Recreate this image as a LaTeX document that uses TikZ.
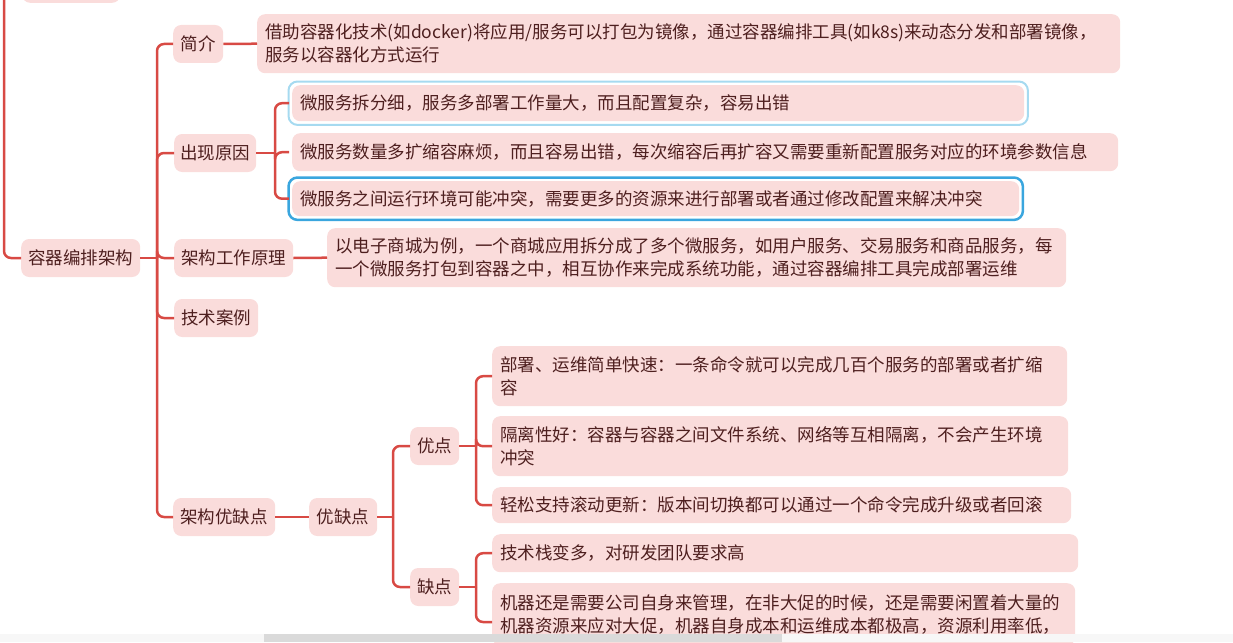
\documentclass[tikz,border=0pt]{standalone}
\usepackage{fontspec}
\setmainfont{Noto Sans CJK SC}
\usetikzlibrary{calc}
\definecolor{boxfill}{HTML}{FADCDB}
\definecolor{txt}{HTML}{4E1F1F}
\definecolor{linec}{HTML}{D84A44}
\definecolor{selA}{HTML}{A6DAF0}
\definecolor{selB}{HTML}{3AA6DE}
\definecolor{barlight}{HTML}{F7F7F7}
\definecolor{bardark}{HTML}{DADADA}
\tikzset{
  topic/.style={fill=boxfill, rounded corners=8pt, inner xsep=0pt, inner ysep=0pt,
    minimum height=38pt, text=txt, anchor=west, align=center,
    font=\fontsize{17.5}{23}\selectfont},
  leaf/.style={fill=boxfill, rounded corners=8pt, inner xsep=8pt, inner ysep=0pt,
    text=txt, anchor=north west, align=left,
    font=\fontsize{17.5}{23}\selectfont},
  conn/.style={draw=linec, line width=2.5pt, rounded corners=7pt},
  selring/.style={rounded corners=9pt},
}
\begin{document}
\begin{tikzpicture}[x=1pt,y=-1pt]
\useasboundingbox (0,0) rectangle (1233,642);
\clip (0,0) rectangle (1233,642);

% previous partial node at top
\node[topic, minimum width=98pt, minimum height=30pt, anchor=south west] (prev) at (22,3) {};

% root
\node[topic, minimum width=119pt] (arch) at (21,258) {容器编排架构};
\coordinate (rootin) at (4,-2);
\draw[conn] (rootin) |- (arch.west);

% level 1
\node[topic, minimum width=50pt] (intro) at (173,44) {简介};
\node[topic, minimum width=82pt] (reason) at (174,153) {出现原因};
\node[topic, minimum width=119pt] (princ) at (174,258) {架构工作原理};
\node[topic, minimum width=84pt] (cases) at (174,318) {技术案例};
\node[topic, minimum width=102pt] (proscons) at (173,517) {架构优缺点};

\coordinate (j0) at (157,258);
\draw[conn] (arch.east) -- (j0);
\foreach \c in {intro,reason,princ,cases,proscons}{
  \draw[conn] (j0) |- (\c.west);
}

% intro
\node[leaf, text width=847pt, minimum height=59pt] (introtext) at (257,14)
  {借助容器化技术(如docker)将应用/服务可以打包为镜像，通过容器编排工具(如k8s)来动态分发和部署镜像，\\服务以容器化方式运行};
\draw[conn] (intro.east) -- (introtext.west);

% reasons
\node[leaf, text width=716pt, minimum height=36pt] (r1) at (292,85)
  {微服务拆分细，服务多部署工作量大，而且配置复杂，容易出错};
\node[leaf, text width=810pt, minimum height=38pt] (r2) at (292,133)
  {微服务数量多扩缩容麻烦，而且容易出错，每次缩容后再扩容又需要重新配置服务对应的环境参数信息};
\node[leaf, text width=711pt, minimum height=35pt] (r3) at (292,181)
  {微服务之间运行环境可能冲突，需要更多的资源来进行部署或者通过修改配置来解决冲突};
\draw[selring, draw=selA, line width=2pt] ($(r1.north west)+(-3.5,-3.5)$) rectangle ($(r1.south east)+(3.5,3.5)$);
\draw[selring, draw=selB, line width=2.5pt] ($(r3.north west)+(-3.5,-3.5)$) rectangle ($(r3.south east)+(3.5,3.5)$);
\coordinate (j1) at (275,153);
\draw[conn] (reason.east) -- (j1);
\foreach \c in {r1,r2,r3}{
  \draw[conn] (j1) |- ($(\c.west)+(-3,0)$);
}

% principle
\node[leaf, text width=723pt, minimum height=59pt] (ptext) at (327,228)
  {以电子商城为例，一个商城应用拆分成了多个微服务，如用户服务、交易服务和商品服务，每\\一个微服务打包到容器之中，相互协作来完成系统功能，通过容器编排工具完成部署运维};
\draw[conn] (princ.east) -- (ptext.west);

% pros & cons
\node[topic, minimum width=68pt] (pc) at (309,517) {优缺点};
\draw[conn] (proscons.east) -- (pc.west);
\node[topic, minimum width=49pt] (pros) at (410,446) {优点};
\node[topic, minimum width=49pt] (cons) at (410,587) {缺点};
\coordinate (j2) at (393,517);
\draw[conn] (pc.east) -- (j2);
\draw[conn] (j2) |- (pros.west);
\draw[conn] (j2) |- (cons.west);

\node[leaf, text width=559pt, minimum height=60pt] (pa) at (492,346)
  {部署、运维简单快速：一条命令就可以完成几百个服务的部署或者扩缩\\容};
\node[leaf, text width=560pt, minimum height=60pt] (pb) at (492,416)
  {隔离性好：容器与容器之间文件系统、网络等互相隔离，不会产生环境\\冲突};
\node[leaf, text width=563pt, minimum height=36pt] (pcc) at (492,487)
  {轻松支持滚动更新：版本间切换都可以通过一个命令完成升级或者回滚};
\coordinate (j3) at (476,446);
\draw[conn] (pros.east) -- (j3);
\foreach \c in {pa,pb,pcc}{
  \draw[conn] (j3) |- (\c.west);
}

\node[leaf, text width=570pt, minimum height=38pt] (ca) at (492,534)
  {技术栈变多，对研发团队要求高};
\node[leaf, text width=567pt, minimum height=62pt] (cb) at (492,583)
  {机器还是需要公司自身来管理，在非大促的时候，还是需要闲置着大量的\\机器资源来应对大促，机器自身成本和运维成本都极高，资源利用率低，};
\coordinate (cbin) at ($(cb.north west)+(0,39)$);
\coordinate (j4) at (476,587);
\draw[conn] (cons.east) -- (j4);
\draw[conn] (j4) |- (ca.west);
\draw[conn] (j4) |- (cbin);

% scrollbar
\fill[barlight] (0,634) rectangle (1233,642);
\fill[bardark] (264,634) rectangle (782,642);
\end{tikzpicture}
\end{document}
